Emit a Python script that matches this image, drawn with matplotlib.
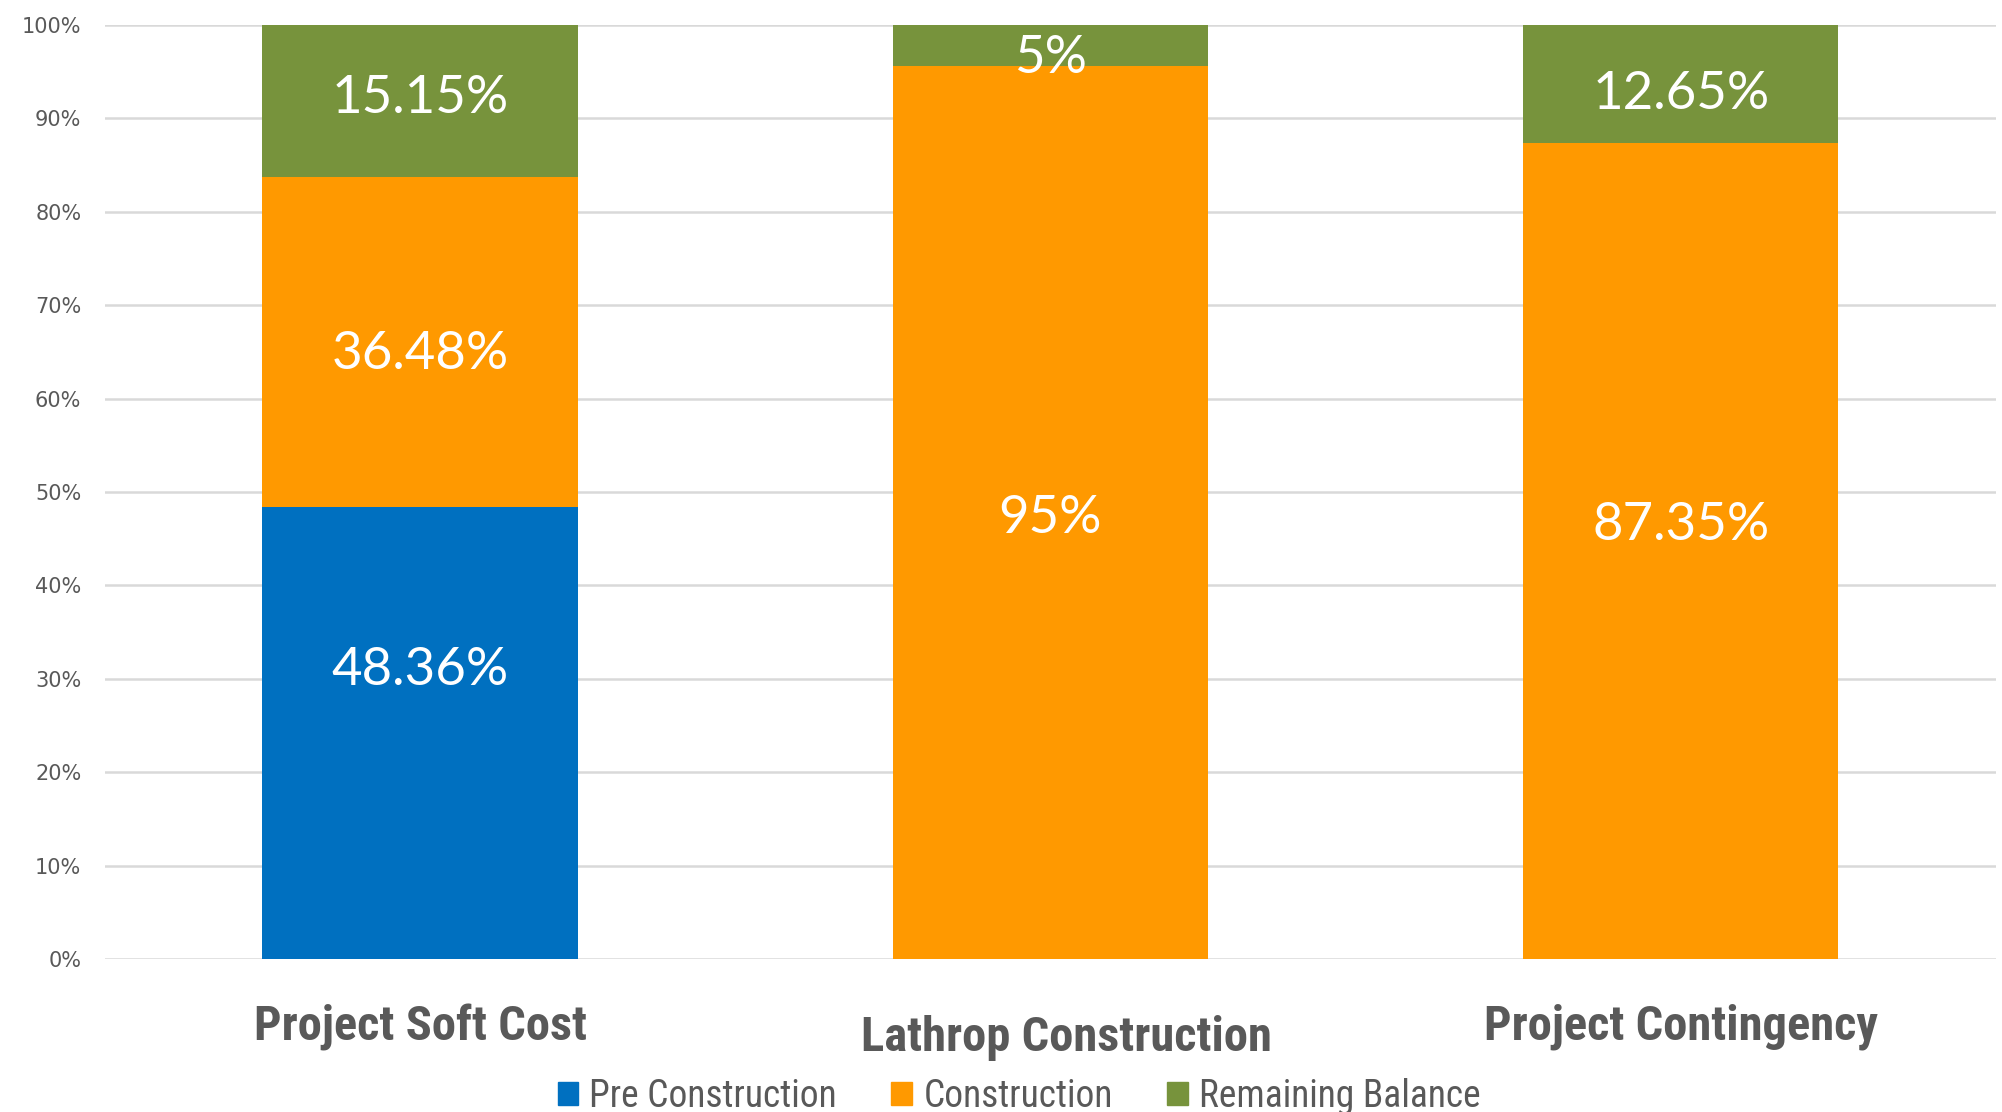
import matplotlib
matplotlib.use("Agg")
import matplotlib.pyplot as plt
from matplotlib.patches import Patch

# ── Data (bar heights, labels as printed) ──────────────────────────────────────
categories = ["Project Soft Cost", "Lathrop Construction", "Project Contingency"]
pre_construction = [48.4, 0, 0]
construction = [35.3, 95.6, 87.4]
remaining = [16.3, 4.4, 12.6]
series_names = ["Pre Construction", "Construction", "Remaining Balance"]
label_texts = [["48.36%", "", ""], ["36.48%", "95%", "87.35%"], ["15.15%", "5%", "12.65%"]]
# vertical nudges (points) so labels sit where the original put them
label_nudge = {(0, 0): 45, (1, 0): -9, (2, 0): 2,
               (1, 1): -4.5, (2, 1): -9, (1, 2): 18, (2, 2): -8}

# ── Style ──────────────────────────────────────────────────────────────────────
COLORS = ["#0070C0", "#FF9900", "#77933C"]
GRID = "#D9D9D9"
TEXT = "#595959"
NARROW = ["Liberation Sans Narrow", "Roboto Condensed", "DejaVu Sans"]
LABEL_FONT = ["Lato", "DejaVu Sans"]

fig = plt.figure(figsize=(20.02, 11.12), dpi=100)
ax = fig.add_axes([0.0524, 0.1376, 0.9446, 0.8399])

x = list(range(len(categories)))
bottoms = [0] * len(categories)
for s, (vals, col, lbls) in enumerate(zip([pre_construction, construction, remaining], COLORS, label_texts)):
    ax.bar(x, vals, width=0.5, bottom=bottoms, color=col, zorder=3)
    for i, (v, b, t) in enumerate(zip(vals, bottoms, lbls)):
        if v > 0 and t:
            ax.annotate(t, (i, b + v / 2), xytext=(0, label_nudge.get((s, i), 0)),
                        textcoords="offset points", ha="center", va="center",
                        color="white", fontsize=38, family=LABEL_FONT, zorder=4)
    bottoms = [b + v for b, v in zip(bottoms, vals)]

ax.set_xlim(-0.5, 2.5)
ax.set_ylim(0, 100)
ax.set_yticks(range(0, 101, 10))
ax.set_yticklabels([f"{t}%" for t in range(0, 101, 10)], fontsize=15, color=TEXT)
ax.yaxis.grid(True, color=GRID, linewidth=1.8, zorder=0)
ax.tick_params(axis="y", length=0, pad=17)
ax.set_xticks([])
for sp in ax.spines.values():
    sp.set_visible(False)

# category labels under the bars (the middle one sits a little lower in the original)
for i, c in enumerate(categories):
    dy = -0.085 if i == 1 else -0.073
    dx = 0.025 if i == 1 else 0
    ax.text(i + dx, dy, c, transform=ax.get_xaxis_transform(), ha="center", va="center",
            fontsize=35, fontweight="bold", color=TEXT, family=NARROW)

handles = [Patch(color=c) for c in COLORS]
fig.legend(handles, series_names, loc="center", bbox_to_anchor=(0.509, 0.014), ncol=3,
           frameon=False, handlelength=0.55, handleheight=0.55, handletextpad=0.3,
           columnspacing=1.45, prop={"family": NARROW, "size": 27}, labelcolor=TEXT,
           borderpad=0, borderaxespad=0)

fig.savefig("out.png", dpi=100)
